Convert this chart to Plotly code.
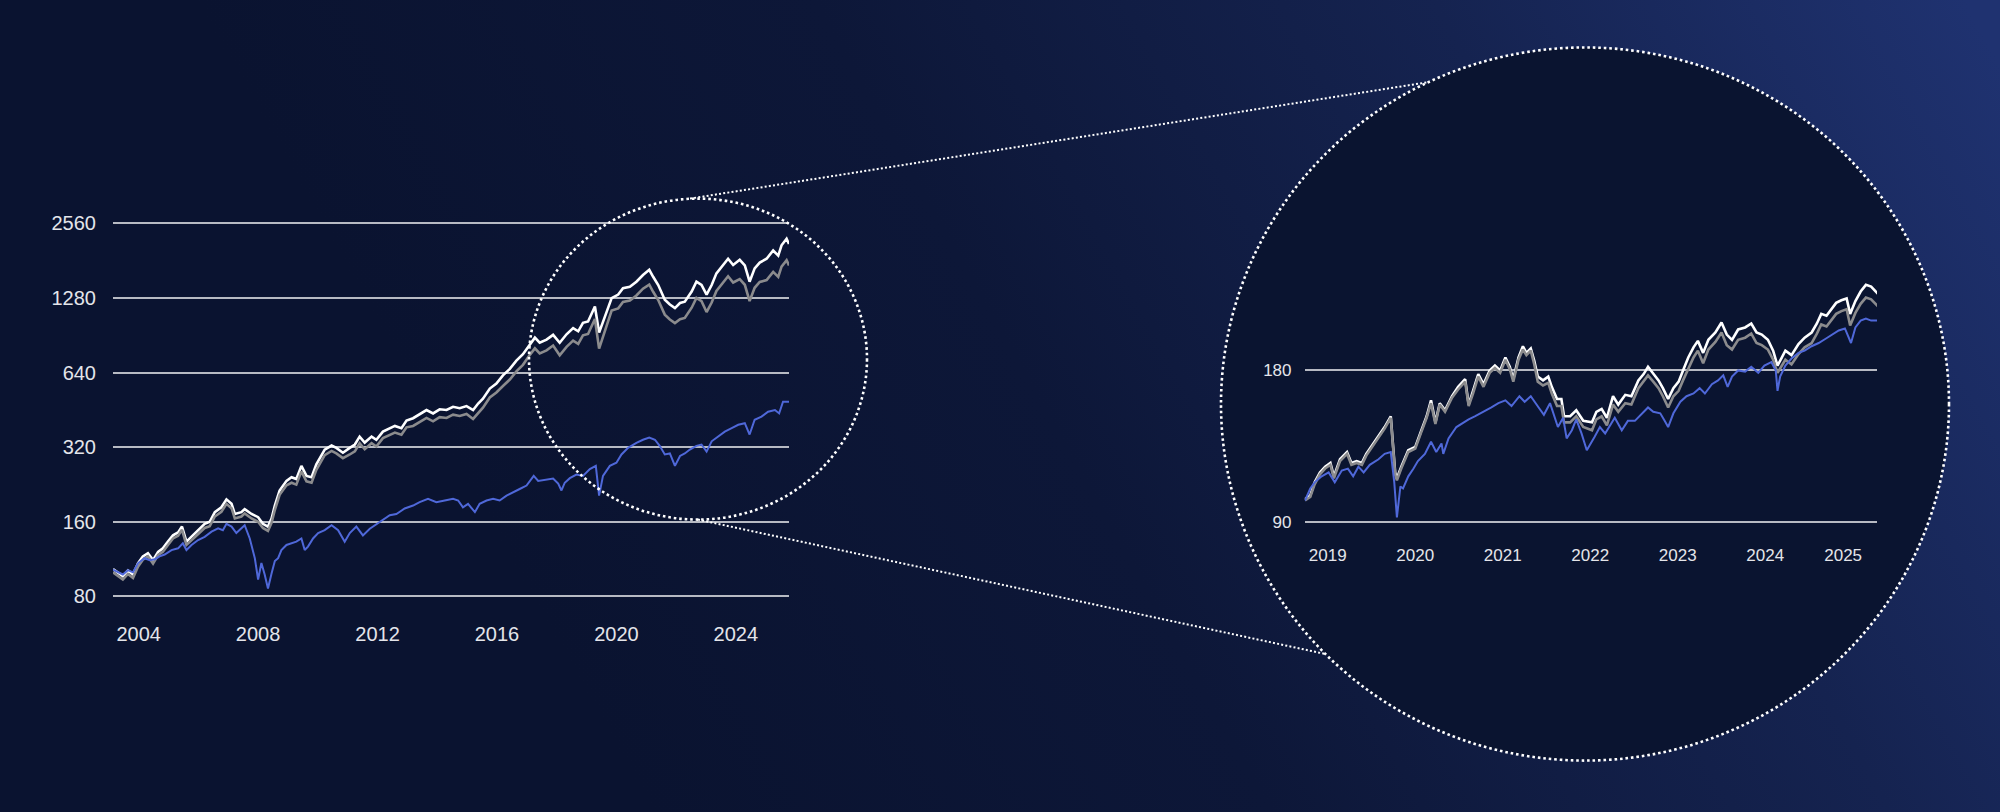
import math
import base64
import plotly.graph_objects as go

W, H = 2000, 812

# ---------------- main chart data (time in decimal years) ----------------
main_t_wg = [
    2003.14, 2003.47, 2003.64, 2003.81, 2003.98, 2004.14, 2004.31, 2004.48, 2004.65, 2004.81,
    2004.98, 2005.15, 2005.32, 2005.45, 2005.60, 2005.77, 2005.99, 2006.21, 2006.38, 2006.55,
    2006.77, 2006.94, 2007.11, 2007.22, 2007.44, 2007.55, 2007.78, 2008.00, 2008.16, 2008.33,
    2008.45, 2008.56, 2008.72, 2008.95, 2009.12, 2009.28, 2009.45, 2009.62, 2009.79, 2009.95,
    2010.23, 2010.46, 2010.62, 2010.84, 2011.07, 2011.24, 2011.40, 2011.57, 2011.80, 2011.96,
    2012.18, 2012.41, 2012.58, 2012.80, 2012.97, 2013.19, 2013.41, 2013.64, 2013.86, 2014.08,
    2014.31, 2014.53, 2014.75, 2014.98, 2015.20, 2015.37, 2015.53, 2015.76, 2015.98, 2016.20,
    2016.43, 2016.65, 2016.87, 2017.10, 2017.27, 2017.43, 2017.66, 2017.88, 2018.10, 2018.33,
    2018.55, 2018.72, 2018.88, 2019.05, 2019.28, 2019.42, 2019.61, 2019.84, 2020.06, 2020.22,
    2020.45, 2020.67, 2020.89, 2021.10, 2021.23, 2021.40, 2021.62, 2021.79, 2021.96, 2022.13,
    2022.29, 2022.52, 2022.68, 2022.85, 2023.02, 2023.19, 2023.35, 2023.57, 2023.74, 2023.91,
    2024.13, 2024.30, 2024.46, 2024.63, 2024.80, 2025.03, 2025.25, 2025.42, 2025.53, 2025.70, 2025.78,
]
main_white = [
    103, 96.5, 101.6, 98, 109, 116, 119.5, 112, 121, 125,
    133, 141, 145, 153, 133, 139, 148, 157, 160, 175,
    183, 197, 189, 172, 175, 180, 172, 167, 157, 153,
    165, 186, 214, 234, 242, 238, 269, 245, 242, 273,
    313, 325, 318, 304, 318, 328, 353, 334, 353, 343,
    370, 382, 390, 382, 410, 419, 435, 452, 438, 455,
    452, 466, 460, 469, 452, 480, 502, 552, 578, 624,
    663, 715, 760, 834, 886, 845, 870, 909, 845, 914,
    968, 940, 1017, 1030, 1184, 928, 1064, 1280, 1322, 1402,
    1420, 1490, 1586, 1665, 1560, 1445, 1261, 1206, 1166, 1222,
    1237, 1360, 1490, 1445, 1322, 1445, 1610, 1734, 1845, 1740,
    1827, 1734, 1490, 1686, 1780, 1845, 1992, 1900, 2090, 2220, 2115,
]
main_grey = [
    100, 93.5, 98.5, 95, 105.5, 112.5, 116, 108.5, 117.5, 121,
    129, 137, 140.5, 148.5, 129, 135, 143.5, 151, 153.5, 168,
    175.5, 189, 181.5, 165, 168, 173, 165, 160, 151, 147,
    158.5, 178.5, 205.5, 224.5, 230, 226, 255.5, 233, 230, 259.5,
    297, 309, 302, 289, 299, 308, 332, 314, 332, 322,
    348, 359, 366.5, 359, 385, 390, 404.5, 420, 407, 423,
    420, 433, 428, 436, 416, 441.5, 462, 508, 532, 565,
    600, 647, 688, 755, 802, 765, 787, 823, 752, 813.5,
    861.5, 836.5, 905, 917, 1054, 800, 947, 1139, 1163, 1234,
    1250, 1311, 1396, 1449, 1357, 1257, 1097, 1049, 1014, 1051,
    1064, 1170, 1281, 1243, 1124, 1228, 1368, 1474, 1568, 1479,
    1525, 1448, 1244, 1408, 1486, 1513, 1633, 1558, 1714, 1820, 1734,
]
main_t_blue = [
    2003.14, 2003.31, 2003.47, 2003.64, 2003.81, 2003.98, 2004.20, 2004.37, 2004.54, 2004.70,
    2004.87, 2005.10, 2005.32, 2005.48, 2005.60, 2005.77, 2005.99, 2006.21, 2006.44, 2006.66,
    2006.82, 2006.94, 2007.11, 2007.27, 2007.38, 2007.55, 2007.72, 2007.89, 2008.00, 2008.11,
    2008.22, 2008.33, 2008.45, 2008.56, 2008.67, 2008.78, 2008.95, 2009.12, 2009.28, 2009.45,
    2009.56, 2009.67, 2009.84, 2010.01, 2010.23, 2010.46, 2010.68, 2010.90, 2011.07, 2011.29,
    2011.51, 2011.74, 2012.02, 2012.18, 2012.41, 2012.63, 2012.91, 2013.19, 2013.41, 2013.69,
    2013.97, 2014.25, 2014.53, 2014.70, 2014.86, 2015.03, 2015.26, 2015.42, 2015.65, 2015.87,
    2016.09, 2016.32, 2016.54, 2016.76, 2016.99, 2017.23, 2017.38, 2017.60, 2017.88, 2018.05,
    2018.16, 2018.27, 2018.44, 2018.66, 2018.88, 2019.11, 2019.31, 2019.42, 2019.55, 2019.78,
    2020.00, 2020.17, 2020.39, 2020.67, 2020.89, 2021.10, 2021.29, 2021.45, 2021.62, 2021.79,
    2021.96, 2022.13, 2022.29, 2022.46, 2022.68, 2022.85, 2023.02, 2023.19, 2023.41, 2023.63,
    2023.86, 2024.08, 2024.30, 2024.46, 2024.63, 2024.86, 2025.08, 2025.31, 2025.45, 2025.58, 2025.78,
]
main_blue = [
    102.5, 100, 98, 102, 100, 109, 114, 112, 113, 116,
    118, 123, 125, 131, 123, 129, 135, 139, 146, 150.5,
    148, 157, 153, 144, 148, 155, 137, 114, 93.5, 109,
    98, 86, 99, 111, 114, 123, 129, 131, 133, 137,
    123, 127, 137, 144, 148, 155, 148, 133, 144, 153,
    141, 150, 158, 162, 170, 172, 181, 186, 192, 198,
    192, 195, 198, 195, 183, 189, 175, 189, 195, 198,
    195, 204, 211, 217, 224, 245, 234, 236, 239, 228,
    214, 230, 240, 248, 245, 261, 269, 204, 245, 269,
    277, 299, 318, 333, 343, 350, 343, 324, 299, 302,
    269, 295, 302, 313, 324, 328, 307, 338, 353, 370,
    382, 394, 400, 360, 413, 425, 445, 452, 438, 488, 488,
]
main_xticks = [2004, 2008, 2012, 2016, 2020, 2024]
main_yticks = [80, 160, 320, 640, 1280, 2560]

# ---------------- zoomed chart data (rebased) ----------------
zoom_t_wg = [
    2018.74, 2018.80, 2018.85, 2018.91, 2018.97, 2019.03, 2019.07, 2019.14, 2019.22, 2019.27,
    2019.33, 2019.39, 2019.44, 2019.52, 2019.60, 2019.65, 2019.72, 2019.77, 2019.79, 2019.84,
    2019.92, 2020.00, 2020.07, 2020.13, 2020.18, 2020.23, 2020.28, 2020.34, 2020.42, 2020.49,
    2020.57, 2020.61, 2020.66, 2020.72, 2020.78, 2020.85, 2020.91, 2020.97, 2021.03, 2021.08,
    2021.12, 2021.18, 2021.23, 2021.27, 2021.32, 2021.36, 2021.40, 2021.46, 2021.52, 2021.56,
    2021.62, 2021.67, 2021.70, 2021.77, 2021.84, 2021.92, 2022.02, 2022.07, 2022.13, 2022.19,
    2022.26, 2022.32, 2022.40, 2022.47, 2022.55, 2022.61, 2022.66, 2022.72, 2022.78, 2022.83,
    2022.89, 2022.95, 2023.01, 2023.06, 2023.12, 2023.18, 2023.23, 2023.29, 2023.35, 2023.43,
    2023.50, 2023.56, 2023.62, 2023.69, 2023.77, 2023.84, 2023.90, 2023.96, 2024.03, 2024.09,
    2024.14, 2024.19, 2024.23, 2024.30, 2024.38, 2024.45, 2024.53, 2024.59, 2024.64, 2024.70,
    2024.76, 2024.81, 2024.87, 2024.93, 2024.97, 2025.03, 2025.09, 2025.15, 2025.21, 2025.25, 2025.29,
]
zoom_white = [
    100, 101.7, 108, 113, 116, 118, 111, 120, 124, 118,
    119, 118, 123, 129, 135, 139, 146, 113, 110, 116,
    125, 127, 137, 146, 157, 142, 155, 150, 160, 167,
    173, 154, 164, 177, 169, 180, 184, 180, 191, 183,
    173, 191, 201, 195, 199, 188, 175, 172, 175, 167,
    158, 158, 146, 146, 150, 143, 142, 149, 151, 145,
    160, 154, 161, 160, 172, 177, 183, 177, 172, 166,
    158, 166, 171, 180, 191, 200, 206, 195, 207, 214,
    224, 212, 207, 217, 219, 223, 214, 212, 207, 197,
    184, 191, 197, 193, 203, 209, 214, 223, 233, 231,
    238, 245, 248, 250, 233, 247, 258, 266, 264, 260, 255,
]
zoom_grey = [
    99.5, 101, 107, 112, 115, 117, 110, 119, 123, 117,
    118, 117, 122, 128, 134, 138, 145, 112, 109, 115,
    124, 126, 136, 145, 155, 141, 154, 149, 159, 165,
    171, 153, 162, 175, 167, 178, 182, 178, 189, 181,
    171, 189, 198, 193, 197, 185, 171, 168, 170, 162,
    153, 153, 142, 142, 146, 139, 137, 144, 146, 140,
    154, 149, 155, 154, 166, 171, 176, 171, 166, 160,
    152, 160, 164, 172, 182, 191, 197, 186, 198, 205,
    214, 202, 198, 207, 209, 213, 204, 202, 198, 189,
    178, 184, 189, 185, 194, 200, 204, 213, 222, 220,
    227, 233, 236, 238, 221, 234, 244, 251, 249, 245, 241,
]
zoom_t_blue = [
    2018.74, 2018.80, 2018.85, 2018.93, 2019.01, 2019.08, 2019.16, 2019.23, 2019.29, 2019.35,
    2019.41, 2019.48, 2019.58, 2019.65, 2019.72, 2019.76, 2019.79, 2019.83, 2019.86, 2019.92,
    2019.98, 2020.03, 2020.11, 2020.18, 2020.24, 2020.30, 2020.32, 2020.38, 2020.47, 2020.55,
    2020.61, 2020.68, 2020.78, 2020.87, 2020.95, 2021.03, 2021.10, 2021.19, 2021.25, 2021.32,
    2021.41, 2021.47, 2021.54, 2021.59, 2021.63, 2021.69, 2021.73, 2021.79, 2021.84, 2021.90,
    2021.96, 2022.05, 2022.11, 2022.17, 2022.23, 2022.28, 2022.36, 2022.43, 2022.51, 2022.59,
    2022.66, 2022.72, 2022.80, 2022.85, 2022.89, 2022.95, 2023.03, 2023.10, 2023.18, 2023.25,
    2023.31, 2023.39, 2023.46, 2023.52, 2023.57, 2023.62, 2023.69, 2023.77, 2023.84, 2023.92,
    2023.99, 2024.07, 2024.12, 2024.14, 2024.17, 2024.23, 2024.30, 2024.38, 2024.45, 2024.53,
    2024.61, 2024.69, 2024.76, 2024.84, 2024.91, 2024.98, 2025.03, 2025.09, 2025.15, 2025.21, 2025.29,
]
zoom_blue = [
    99.4, 105, 108, 111, 113, 108, 114, 115, 111, 116,
    113, 117, 120, 123, 124, 108, 92, 106, 105, 111,
    115, 119, 123, 130, 124, 129, 123, 132, 139, 142,
    144, 146, 149, 152, 155, 157, 153, 160, 156, 160,
    152, 147, 155, 146, 139, 145, 132, 137, 144, 135,
    125, 133, 139, 135, 140, 145, 137, 143, 143, 148,
    152, 149, 148, 143, 139, 148, 156, 160, 162, 166,
    162, 169, 172, 176, 167, 175, 180, 179, 183, 178,
    184, 187, 180, 164, 175, 184, 190, 195, 197, 201,
    204, 208, 212, 216, 218, 204, 219, 226, 228, 226, 226,
]
zoom_xtick_vals = [2019, 2020, 2021, 2022, 2023, 2024, 2024.89]
zoom_xtick_text = ["2019", "2020", "2021", "2022", "2023", "2024", "2025"]
zoom_yticks = [90, 180]

# ---------------- styling ----------------
WHITE = "#ffffff"
GREY = "#8b8b8d"
BLUE = "#4f68d9"
GRID = "#b7bac3"
TEXT = "#e4e5ea"
FONT = "Liberation Sans, Arial, sans-serif"


def pxx(x):
    return x / W


def pxy(y):
    return 1 - y / H


fig = go.Figure()

for t, v, c, w in [
    (main_t_wg, main_white, WHITE, 2.6),
    (main_t_wg, main_grey, GREY, 2.6),
    (main_t_blue, main_blue, BLUE, 2.0),
]:
    fig.add_trace(go.Scatter(x=t, y=v, mode="lines", line=dict(color=c, width=w),
                             xaxis="x", yaxis="y", hoverinfo="skip"))

for t, v, c, w in [
    (zoom_t_wg, zoom_white, WHITE, 2.6),
    (zoom_t_wg, zoom_grey, GREY, 2.6),
    (zoom_t_blue, zoom_blue, BLUE, 2.0),
]:
    fig.add_trace(go.Scatter(x=t, y=v, mode="lines", line=dict(color=c, width=w),
                             xaxis="x2", yaxis="y2", hoverinfo="skip"))

# background gradient as an svg image
svg = (
    '<svg xmlns="http://www.w3.org/2000/svg" width="2000" height="812" '
    'viewBox="0 0 2000 812" preserveAspectRatio="none">'
    '<defs><linearGradient id="g" gradientUnits="userSpaceOnUse" x1="650" y1="812" x2="2000" y2="60">'
    '<stop offset="0" stop-color="#0a1330"/>'
    '<stop offset="0.35" stop-color="#0d1738"/>'
    '<stop offset="0.7" stop-color="#152350"/>'
    '<stop offset="1" stop-color="#1f3270"/>'
    '</linearGradient></defs>'
    '<rect x="0" y="0" width="2000" height="812" fill="url(#g)"/></svg>'
)
bg_src = "data:image/svg+xml;base64," + base64.b64encode(svg.encode()).decode()

# geometry of circles / connectors (pixels)
small = dict(x0=529, x1=867, y0=196, y1=521)
big = dict(x0=1221, x1=1949, y0=43, y1=765)

shapes = [
    dict(type="circle", xref="paper", yref="paper", layer="below",
         x0=pxx(big["x0"]), x1=pxx(big["x1"]), y0=pxy(big["y1"]), y1=pxy(big["y0"]),
         fillcolor="#0a1430", line=dict(color="#ffffff", width=2.6, dash="2.6px,2.9px")),
    dict(type="circle", xref="paper", yref="paper", layer="above",
         x0=pxx(small["x0"]), x1=pxx(small["x1"]), y0=pxy(small["y1"]), y1=pxy(small["y0"]),
         fillcolor="rgba(0,0,0,0)", line=dict(color="#ffffff", width=2.6, dash="2.6px,2.9px")),
    dict(type="line", xref="paper", yref="paper", layer="above",
         x0=pxx(690), y0=pxy(196), x1=pxx(1429), y1=pxy(78),
         line=dict(color="#ffffff", width=2, dash="2px,2.2px")),
    dict(type="line", xref="paper", yref="paper", layer="above",
         x0=pxx(698), y0=pxy(521), x1=pxx(1325), y1=pxy(657),
         line=dict(color="#ffffff", width=2, dash="2px,2.2px")),
]

axis_common = dict(zeroline=False, showline=False, ticks="", fixedrange=True)

fig.update_layout(
    width=W, height=H,
    margin=dict(l=0, r=0, t=0, b=0, pad=0),
    paper_bgcolor="rgba(0,0,0,0)",
    plot_bgcolor="rgba(0,0,0,0)",
    showlegend=False,
    font=dict(family=FONT, color=TEXT),
    images=[dict(source=bg_src, xref="paper", yref="paper", x=0, y=1, sizex=1, sizey=1,
                 xanchor="left", yanchor="top", sizing="stretch", layer="below")],
    shapes=shapes,
    xaxis=dict(domain=[pxx(113), pxx(789)], range=[2003.14, 2025.78], anchor="y",
               tickvals=main_xticks, ticktext=[str(v) for v in main_xticks],
               showgrid=False, tickfont=dict(size=20, color=TEXT), ticklabelstandoff=18,
               **axis_common),
    yaxis=dict(type="log", domain=[pxy(604.3), pxy(215.4)], anchor="x",
               range=[math.log10(76), math.log10(2700)],
               tickvals=main_yticks, ticktext=[str(v) for v in main_yticks],
               showgrid=True, gridcolor=GRID, gridwidth=1.8,
               tickfont=dict(size=20, color=TEXT), ticklabelstandoff=16,
               **axis_common),
    xaxis2=dict(domain=[pxx(1304.5), pxx(1877)], range=[2018.734, 2025.277], anchor="y2",
                tickvals=zoom_xtick_vals, ticktext=zoom_xtick_text,
                showgrid=False, tickfont=dict(size=17, color=TEXT), ticklabelstandoff=16,
                **axis_common),
    yaxis2=dict(type="log", domain=[pxy(528.7), pxy(264.2)], anchor="x2",
                range=[math.log10(88), math.log10(290)],
                tickvals=zoom_yticks, ticktext=[str(v) for v in zoom_yticks],
                showgrid=True, gridcolor=GRID, gridwidth=1.8,
                tickfont=dict(size=17, color=TEXT), ticklabelstandoff=12,
                **axis_common),
)

page_css = (
    "document.documentElement.style.margin='0';"
    "document.body.style.margin='0';"
    "document.body.style.padding='0';"
    "document.body.style.overflow='hidden';"
    "document.body.style.backgroundColor='#0b1430';"
    "document.body.style.backgroundImage='url(" + bg_src + ")';"
    "document.body.style.backgroundSize='2000px 812px';"
    "document.body.style.backgroundRepeat='no-repeat';"
)

fig.write_html(
    "out.html",
    config={"displayModeBar": False},
    post_script=page_css,
)
